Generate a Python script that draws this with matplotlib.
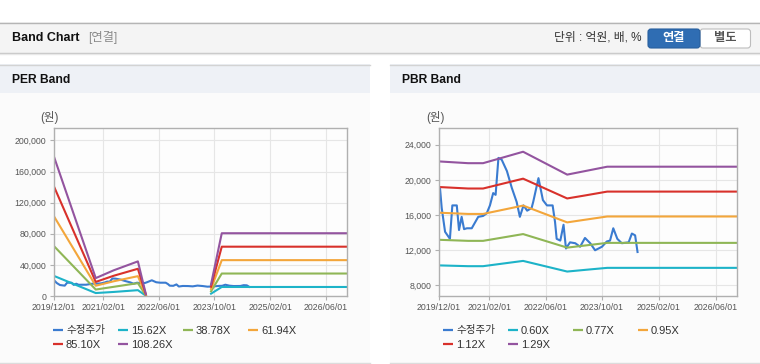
import numpy as np
import matplotlib
matplotlib.use('Agg')
import matplotlib.pyplot as plt
from matplotlib.patches import Rectangle, FancyBboxPatch

plt.rcParams['font.family'] = ['Liberation Sans', 'Noto Sans CJK KR', 'DejaVu Sans']

# x축: 차트 왼쪽 끝부터의 개월 수
tick_pos = [0, 12.4, 26.4, 40.3, 54.4, 68.4]
tick_labels = ['2019/12/01', '2021/02/01', '2022/06/01', '2023/10/01', '2025/02/01', '2026/06/01']
x_end = 73.7

# 수정주가
price_m = [0.25, 0.67, 1.5, 2.7, 3.3, 4.4, 4.95, 5.6, 6.2, 6.9,
           8.1, 9.7, 10.9, 11.8, 12.6, 13.4, 14.0, 14.7, 15.5, 16.8,
           18.0, 19.2, 20.0, 20.9, 21.8, 22.9, 23.3, 24.6, 25.7, 26.7,
           28.1, 28.7, 29.1, 30.0, 30.8, 31.4, 32.4, 33.7, 34.9, 36.1,
           37.4, 38.6, 40.3, 41.5, 42.3, 43.1, 44.1, 45.2, 46.9, 47.7,
           48.5, 49.1]
price = [19050, 16800, 14100, 13300, 17100, 17100, 14300, 15800, 14400, 14500,
         14500, 15800, 15900, 16200, 17100, 18500, 18300, 22500, 22300, 21000,
         19100, 17500, 15800, 17100, 16500, 16800, 17500, 20200, 17700, 17100,
         17100, 15200, 13300, 13100, 14900, 12200, 12900, 12800, 12400, 13400,
         12800, 12000, 12400, 13000, 13100, 14500, 13300, 12800, 12900, 13900,
         13700, 11800]

# PER Band
per_x = [0, 10.5, 15, 21.1, 23.1, 23.2, 39.5, 42.2, x_end]
per_labels = ['15.62X', '38.78X', '61.94X', '85.10X', '108.26X']
per_1562 = [25800, 3800, 5200, 7500, 400, np.nan, 3000, 11600, 11600]
per_3878 = [64100, 8300, 11800, 16500, 900, np.nan, 6000, 28900, 28900]
per_6194 = [102400, 13200, 18900, 25500, 1500, np.nan, 9000, 46100, 46100]
per_8510 = [140700, 18100, 26000, 35000, 2000, np.nan, 12000, 63400, 63400]
per_10826 = [179000, 23000, 33000, 44500, 2500, np.nan, 15000, 80700, 80700]

# PBR Band
pbr_x = [0, 7.2, 10.9, 20.8, 31.7, 36.1, 41.6, x_end]
pbr_labels = ['0.60X', '0.77X', '0.95X', '1.12X', '1.29X']
pbr_060 = [10280, 10190, 10190, 10790, 9580, 9770, 10000, 10000]
pbr_077 = [13190, 13070, 13070, 13840, 12300, 12540, 12840, 12840]
pbr_095 = [16270, 16130, 16130, 17080, 15170, 15470, 15840, 15840]
pbr_112 = [19190, 19020, 19020, 20140, 17890, 18230, 18670, 18670]
pbr_129 = [22100, 21900, 21900, 23200, 20600, 21000, 21500, 21500]

colors = ['#3a7bd0', '#1db3c8', '#8fb656', '#f3a63b', '#d8312b', '#93549f']

fig = plt.figure(figsize=(7.6, 3.64), dpi=100)

# 배경 (픽셀 좌표)
bg = fig.add_axes([0, 0, 1, 1], zorder=0)
bg.set_xlim(0, 760)
bg.set_ylim(364, 0)
bg.axis('off')

bg.add_patch(Rectangle((0, 22), 760, 31, fc='#f4f4f4', ec='none'))
bg.plot([0, 760], [22.5, 22.5], color='#b5b5b5', lw=1.0)
bg.plot([0, 760], [53, 53], color='#c4c4c4', lw=1.0)
bg.plot([0, 760], [54.2, 54.2], color='#e8e8e8', lw=1.0)

for px in [0, 390]:
    bg.add_patch(Rectangle((px, 64), 370, 299, fc='#fbfbfb', ec='none'))
    bg.add_patch(Rectangle((px, 64), 370, 29, fc='#eef1f6', ec='none'))
    bg.plot([px, px + 370], [64.5, 64.5], color='#d3d3d3', lw=1.0)
    bg.plot([px, px + 370], [362.5, 362.5], color='#dcdcdc', lw=1.0)

bg.text(12, 38, 'Band Chart', fontsize=9, fontweight='bold', color='#111111', va='center')
bg.text(88, 38, '[연결]', fontsize=8.8, color='#8a8a8a', va='center')
bg.text(641, 38, '단위 : 억원, 배, %', fontsize=8.5, color='#333333', va='center', ha='right')

bg.add_patch(FancyBboxPatch((700, 29), 50.5, 19, boxstyle='round,pad=0,rounding_size=3',
                            fc='white', ec='#bdbdbd', lw=0.8))
bg.add_patch(FancyBboxPatch((648, 29), 52, 19, boxstyle='round,pad=0,rounding_size=3',
                            fc='#2f6db3', ec='#285f9e', lw=0.8))
bg.text(674, 38.5, '연결', fontsize=8.8, fontweight='bold', color='white', ha='center', va='center')
bg.text(725, 38.5, '별도', fontsize=8.8, fontweight='bold', color='#555555', ha='center', va='center')

bg.text(12, 80, 'PER Band', fontsize=8.7, fontweight='bold', color='#111111', va='center')
bg.text(402, 80, 'PBR Band', fontsize=8.7, fontweight='bold', color='#111111', va='center')
bg.text(49, 117, '(원)', fontsize=8.3, color='#555555', ha='center', va='center')
bg.text(435, 117, '(원)', fontsize=8.3, color='#555555', ha='center', va='center')

# 범례 (수동)
def legend(x0, names):
    spots = [(x0, 330), (x0 + 65, 330), (x0 + 130, 330), (x0 + 195, 330),
             (x0, 344), (x0 + 65, 344)]
    for (lx, ly), name, c in zip(spots, names, colors):
        bg.plot([lx, lx + 10], [ly, ly], color=c, lw=1.6, solid_capstyle='butt')
        fs = 7.6 if name == '수정주가' else 8
        bg.text(lx + 13, ly + 0.5, name, fontsize=fs, color='#333333', va='center')

legend(53, ['수정주가'] + per_labels)
legend(443, ['수정주가'] + pbr_labels)


def style(ax):
    ax.set_facecolor('#fdfdfd')
    ax.set_xlim(0, x_end)
    ax.set_xticks(tick_pos)
    ax.set_xticklabels(tick_labels)
    ax.grid(True, color='#e6e6e6', lw=0.8)
    ax.set_axisbelow(True)
    for s in ax.spines.values():
        s.set_color('#b0b0b0')
        s.set_linewidth(1.0)
    ax.tick_params(axis='both', colors='#b0b0b0', labelcolor='#555555',
                   labelsize=6.3, length=3, width=0.8)
    ax.tick_params(axis='x', pad=2.2)
    ax.tick_params(axis='y', pad=2.5)
    ax.yaxis.set_major_formatter(matplotlib.ticker.FuncFormatter(lambda v, p: f'{int(v):,}'))


ax1 = fig.add_axes([54 / 760, 1 - 296 / 364, 293 / 760, 168 / 364], zorder=1)
style(ax1)
ax1.set_ylim(0, 216000)
ax1.set_yticks(range(0, 200001, 40000))
ax1.plot(price_m, price, color=colors[0], lw=1.5)
for ys, c in zip([per_1562, per_3878, per_6194, per_8510, per_10826], colors[1:]):
    ax1.plot(per_x, ys, color=c, lw=1.5)

ax2 = fig.add_axes([439 / 760, 1 - 296 / 364, 298 / 760, 168 / 364], zorder=1)
style(ax2)
ax2.set_ylim(6800, 25900)
ax2.set_yticks(range(8000, 24001, 4000))
ax2.plot(price_m, price, color=colors[0], lw=1.5)
for ys, c in zip([pbr_060, pbr_077, pbr_095, pbr_112, pbr_129], colors[1:]):
    ax2.plot(pbr_x, ys, color=c, lw=1.5)

fig.savefig('out.png', dpi=100)
